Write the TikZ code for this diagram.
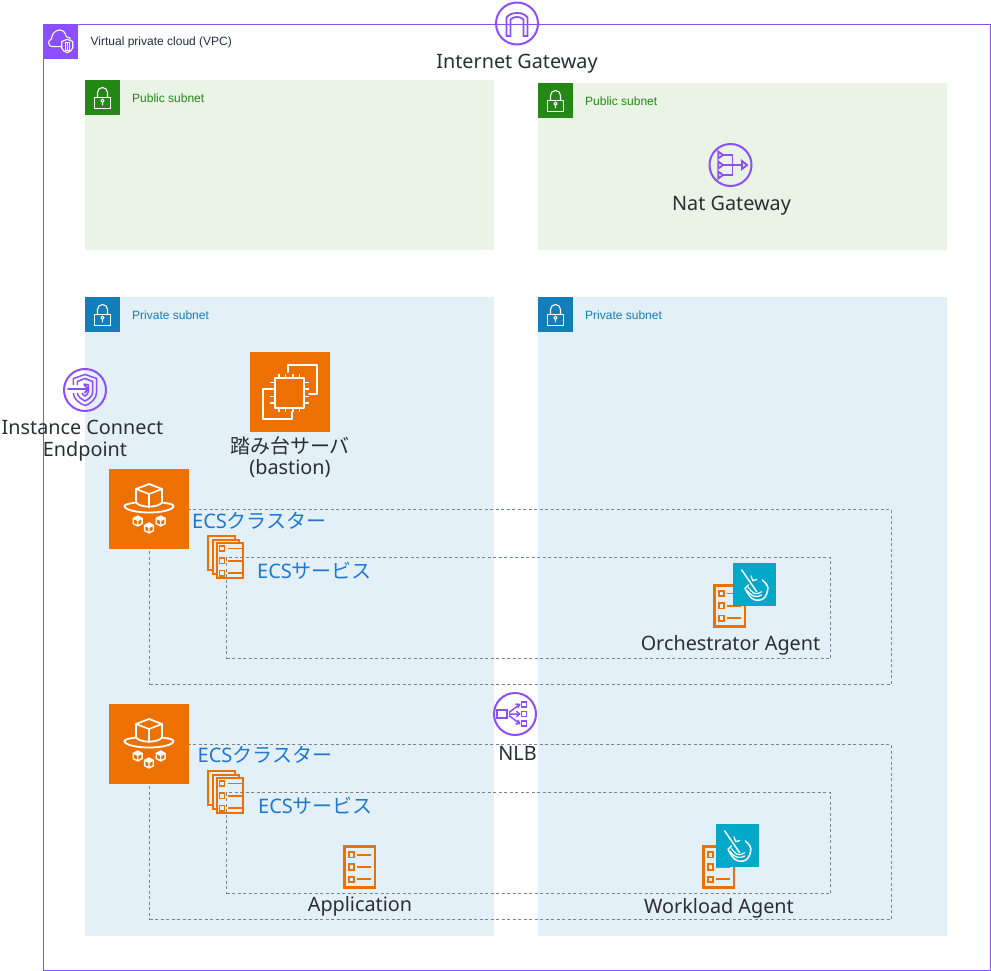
\documentclass[tikz,border=0pt]{standalone}
\usepackage{fontspec}
\setmainfont{Noto Sans}
\newfontfamily\cjk{Noto Sans CJK JP}
\newfontfamily\lib{Liberation Sans}
\definecolor{vpcp}{HTML}{8C4FFF}
\definecolor{pubg}{HTML}{248814}
\definecolor{pubf}{HTML}{E9F3E6}
\definecolor{privb}{HTML}{147EBA}
\definecolor{privf}{HTML}{E3F0F8}
\definecolor{awso}{HTML}{ED7100}
\definecolor{cyanb}{HTML}{01A8C8}
\definecolor{dashg}{HTML}{7A8490}
\definecolor{txt}{HTML}{232F3E}
\definecolor{darkt}{HTML}{2B2F33}
\definecolor{bluet}{HTML}{1E78D2}
\tikzset{
  x=1pt,y=-1pt,
  region/.style={anchor=north west,inner sep=0pt,outer sep=0pt,draw=none,minimum width=#1},
  lbl/.style={inner sep=0pt,anchor=base,text=darkt,font=\fontsize{19.8}{24}\selectfont},
  bluelbl/.style={inner sep=0pt,anchor=base west,text=bluet,font=\fontsize{20}{24}\selectfont},
  smalllbl/.style={inner sep=0pt,anchor=west,font=\lib\fontsize{12}{14}\selectfont},
  dashbox/.style={draw=dashg,line width=0.9pt,dash pattern=on 3pt off 2.5pt},
  ring/.style={draw=vpcp,line width=2pt,line join=round},
  ringline/.style={draw=vpcp,line width=1.8pt,line join=miter},
  whiteline/.style={draw=white,line width=2pt,line join=round,line cap=round},
  thinw/.style={draw=white,line width=1.1pt,line join=round,line cap=round},
  orline/.style={draw=awso,line width=2pt,line join=miter},
  lock/.pic={
    \draw[thinw] (-8,0) rectangle (8,11);
    \draw[thinw] (-5,0) -- (-5,-5) arc[start angle=180,end angle=360,x radius=5,y radius=5] -- (5,0);
    \draw[thinw] (0,3.2) circle[radius=1.6] (0,4.8) -- (0,7.4);
  },
  ecsicon/.pic={
    \draw[thinw,line width=1.8pt] (-13,-6.5) .. controls (-19,-5.5) and (-24.5,-5) .. (-24.5,-3) .. controls (-24.5,1) and (-12,3.5) .. (0,3.5) .. controls (12,3.5) and (24.5,1) .. (24.5,-3) .. controls (24.5,-5) and (19,-5.5) .. (13,-6.5);
    \draw[thinw,line width=1.8pt] (0,-25) -- (13,-20) -- (13,-6.5) .. controls (9,-1) and (-9,-1) .. (-13,-6.5) -- (-13,-20) -- cycle;
    \draw[thinw,line width=1.6pt] (-13,-20) -- (0,-15) -- (13,-20) (0,-15) -- (0,-1.5);
    \foreach \cx/\cy in {-11.3/12,0/19,11.7/12}{
      \fill[white] (\cx,\cy-5.7) -- (\cx+5.2,\cy-3) -- (\cx+5.2,\cy+3) -- (\cx,\cy+5.7) -- (\cx-5.2,\cy+3) -- (\cx-5.2,\cy-3) -- cycle;
      \fill[awso] (\cx-3.7,\cy-1.5) -- (\cx-0.6,\cy) -- (\cx-0.6,\cy+3.6) -- (\cx-3.7,\cy+2.2) -- cycle;
      \fill[awso] (\cx+3.7,\cy-1.5) -- (\cx+0.6,\cy) -- (\cx+0.6,\cy+3.6) -- (\cx+3.7,\cy+2.2) -- cycle;
    }
  },
  docinner/.pic={
    \foreach \yy in {-12.3,0,12.3}{
      \draw[draw=awso,line width=1.8pt] (-10.5,\yy-2.7) rectangle (-5.5,\yy+2.7);
      \draw[draw=awso,line width=1.8pt] (-2.5,\yy) -- (11.5,\yy);
    }
  },
  docicon/.pic={
    \draw[orline,line width=2.4pt] (-15.3,-20.5) rectangle (15.3,20.5);
    \pic at (0,0) {docinner};
  },
  stackicon/.pic={
    \draw[orline] (13.5,-17.5) -- (13.5,-21.3) -- (-13.2,-21.3) -- (-13.2,13) -- (-9,13);
    \draw[orline] (17.7,-13.7) -- (17.7,-17.5) -- (-9,-17.5) -- (-9,17) -- (-4.8,17);
    \draw[orline] (-4.8,-13.7) rectangle (21.8,21.3);
    \begin{scope}[shift={(8.5,3.8)},scale=0.85]\pic at (0,0) {docinner};\end{scope}
  },
  shovel/.pic={
    \draw[thinw,line width=1.5pt] (-12.8,-14.5) -- (2.2,7.2);
    \draw[thinw,line width=1.3pt] (-3.5,-8.5) -- (-1.8,-3.8) -- (2.2,-5);
    \draw[thinw,line width=1.5pt] (7.8,-4.5) .. controls (12,-1) and (14,2) .. (13.2,5.5) .. controls (12.5,11) and (9,15.5) .. (5.5,15.5) .. controls (2,16) and (-1,15.5) .. (-2.8,13.8) .. controls (-6,10.5) and (-8,7) .. (-9.5,3.8) -- (-6.2,0.5);
    \draw[thinw,line width=1.2pt] (-7.8,5.5) .. controls (-5.5,8.5) and (-3.5,10.5) .. (-1.2,11.5) .. controls (1.5,12.5) and (5,12) .. (7.2,10.5);
    \draw[thinw,line width=1.2pt] (-6.2,2.8) .. controls (-4.5,5.5) and (-2.5,7.5) .. (-0.5,8.8) .. controls (2,9.8) and (5,9) .. (7.2,7.2);
  },
}
\begin{document}
\begin{tikzpicture}
\useasboundingbox (0,0) rectangle (991,971);
% VPC
\node[region=946.5pt,minimum height=945.5pt,draw=vpcp,line width=1pt,fill=white] (vpc) at (43.5,24.5) {};
\node[region=35pt,minimum height=35pt,fill=vpcp] (vpchead) at (43,24.5) {};
\begin{scope}[shift={(60.5,42)}]
  \draw[thinw] (1,4.7) -- (-8,4.7) .. controls (-12.8,4.7) and (-13,-2) .. (-9,-3) .. controls (-9,-8) and (-5,-12) .. (-1,-12) .. controls (3,-12) and (5,-9) .. (6,-5) .. controls (8,-5) and (9.5,-4.5) .. (10,-3);
  \draw[thinw] (6.7,-2.7) -- (12.2,-0.5) -- (12.2,6) .. controls (11.5,8.5) and (9,10) .. (6.7,10.7) .. controls (4.4,10) and (1.9,8.5) .. (1.2,6) -- (1.2,-0.5) -- cycle;
  \draw[thinw,line width=.9pt] (4.5,0.8) rectangle (9,8);
  \draw[thinw,line width=.7pt] (6.7,0.8) -- (6.7,8);
\end{scope}
\node[smalllbl,text=txt] (vpclabel) at (90.5,42) {Virtual private cloud (VPC)};
% subnets
\node[region=409pt,minimum height=170pt,fill=pubf] (pub1) at (85,80) {};
\node[region=409pt,minimum height=167pt,fill=pubf] (pub2) at (538,83) {};
\node[region=409pt,minimum height=639pt,fill=privf] (priv1) at (85,297) {};
\node[region=409pt,minimum height=639pt,fill=privf] (priv2) at (538,297) {};
\foreach \nm/\hx/\hy/\hc in {h1/85/80/pubg,h2/538/83/pubg,h3/85/297/privb,h4/538/297/privb}{
  \node[region=35pt,minimum height=35pt,fill=\hc] (\nm) at (\hx,\hy) {};
  \pic at (\hx+17.5,\hy+17.5) {lock};
}
\node[smalllbl,text=pubg] (publbl1) at (132,98) {Public subnet};
\node[smalllbl,text=pubg] (publbl2) at (585,101) {Public subnet};
\node[smalllbl,text=privb] (privlbl1) at (132,315) {Private subnet};
\node[smalllbl,text=privb] (privlbl2) at (585,315) {Private subnet};
% dashed groups
\node[region=741.5pt,minimum height=175pt,dashbox] (cluster1) at (149.5,509.5) {};
\node[region=604pt,minimum height=101pt,dashbox] (service1) at (226.5,557.5) {};
\node[region=741.5pt,minimum height=175pt,dashbox] (cluster2) at (149.5,744.5) {};
\node[region=604pt,minimum height=101pt,dashbox] (service2) at (226.5,792.5) {};
% Internet gateway
\node[circle,minimum size=42pt,inner sep=0pt,ring] (igw) at (517,23.5) {};
\draw[ringline] (506.5,36) -- (506.5,17.5) .. controls (509,14.5) and (512,13) .. (517,13) .. controls (522,13) and (525,14.5) .. (527.5,17.5) -- (527.5,36) -- (523.5,36) -- (523.5,19.5) .. controls (521.5,17.5) and (519.5,17) .. (517,17) .. controls (514.5,17) and (512.5,17.5) .. (510.5,19.5) -- (510.5,36) -- cycle;
\node[lbl] (igwlabel) at (517,68.5) {Internet Gateway};
% NAT gateway
\node[circle,minimum size=42pt,inner sep=0pt,ring] (nat) at (730.5,165) {};
\begin{scope}[shift={(730.5,165)}]
  \foreach \yy in {-10,0,10}{\draw[ringline] (-12.3,\yy-3.5) -- (-7.5,\yy) -- (-12.3,\yy+3.5) -- cycle;}
  \draw[ringline] (-7.5,-10) -- (2,-10) -- (2,10) -- (-7.5,10) (-7.5,0) -- (11,0);
  \draw[ringline] (11.5,-4) -- (16.5,0) -- (11.5,4) -- cycle;
\end{scope}
\node[lbl] (natlabel) at (731.5,210) {Nat Gateway};
% Instance Connect Endpoint
\node[circle,minimum size=42pt,inner sep=0pt,ring] (ice) at (85,390) {};
\begin{scope}[shift={(85,390)}]
  \draw[ringline,line width=1.5pt] (-11.7,-5) -- (-11.7,-11.5) -- (0,-15.5) -- (11.7,-11.5) -- (11.7,2) .. controls (11.7,9) and (5,14) .. (0,15.5) .. controls (-5,14) and (-11.7,9) .. (-11.7,3);
  \draw[ringline,line width=1.5pt] (-7.7,-5) -- (-7.7,-8.5) -- (0,-11.5) -- (7.7,-8.5) -- (7.7,2) .. controls (7.7,6.5) and (3,9.5) .. (0,11) .. controls (-3,9.5) and (-7.7,6.5) .. (-7.7,3);
  \draw[ringline,line width=1.5pt] (-1.5,-6) -- (3.3,-5) -- (3.3,1.5) .. controls (3.3,3.5) and (1.5,5) .. (0,6) .. controls (-1.5,5) and (-3,4.5) .. (-3,3);
  \draw[ringline] (-17.7,-1) -- (3.3,-1) (-0.7,-5) -- (3.3,-1) -- (-0.7,3);
\end{scope}
\node[lbl] (icelabel1) at (82.5,434) {Instance Connect};
\node[lbl] (icelabel2) at (85,456.5) {Endpoint};
% EC2
\node[region=80pt,minimum height=80pt,fill=awso] (ec2) at (250,352) {};
\draw[whiteline] (287.7,372) -- (287.7,365) -- (316.7,365) -- (316.7,394) -- (309,394);
\draw[whiteline] (272,389.3) -- (263.3,389.3) -- (263.3,419) -- (292.3,419) -- (292.3,412);
\draw[whiteline] (274.5,378) rectangle (304,407.5);
\foreach \pp in {279,285.5,293,299.5}{
  \draw[thinw,line width=1.6pt,line cap=butt] (\pp,378) -- (\pp,373.5) (\pp,407.5) -- (\pp,412);
}
\foreach \pp in {382.5,389,396.5,403}{
  \draw[thinw,line width=1.6pt,line cap=butt] (274.5,\pp) -- (270,\pp) (304,\pp) -- (308.5,\pp);
}
\node[lbl] (ec2label1) at (290,453) {\fontsize{20}{24}\selectfont\cjk 踏み台サーバ};
\node[lbl] (ec2label2) at (290,474) {(bastion)};
% ECS 1
\node[region=80pt,minimum height=80pt,fill=awso] (ecs1) at (109,469) {};
\pic at (149,509) {ecsicon};
\node[bluelbl] (cl1label) at (192,528) {ECS\cjk クラスター};
\pic at (221.5,557) {stackicon};
\node[bluelbl] (sv1label) at (257,578) {ECS\cjk サービス};
% Orchestrator
\pic at (729.6,605.8) {docicon};
\node[region=43pt,minimum height=43pt,fill=cyanb] (orchq) at (733,563) {};
\pic at (754.5,584.5) {shovel};
\node[lbl] (orchlabel) at (730.5,650) {Orchestrator Agent};
% NLB
\node[circle,minimum size=42pt,inner sep=0pt,ring] (nlb) at (515,714) {};
\begin{scope}[shift={(515,714)}]
  \draw[ringline] (-17.7,-4) rectangle (-7.7,4);
  \foreach \yy in {-9.5,0,9.5}{\draw[ringline,line width=1.5pt] (6.7,\yy-2.6) rectangle (11.7,\yy+2.6);}
  \draw[ringline,line width=1.5pt] (-6,-1.5) -- (4.5,-9.5) (-6,0) -- (4.5,0) (-6,1.5) -- (4.5,9.5);
  \draw[ringline,line width=1.5pt] (0.5,-10) -- (4.5,-9.5) -- (3,-6) (1.5,-2.8) -- (4.5,0) -- (1.5,2.8) (3,6) -- (4.5,9.5) -- (0.5,10);
\end{scope}
\node[lbl] (nlblabel) at (517.5,760) {NLB};
% ECS 2
\node[region=80pt,minimum height=80pt,fill=awso] (ecs2) at (109,704) {};
\pic at (149,744) {ecsicon};
\node[bluelbl] (cl2label) at (197.5,762.3) {ECS\cjk クラスター};
\pic at (221.5,792) {stackicon};
\node[bluelbl] (sv2label) at (258,813) {ECS\cjk サービス};
% Application
\pic at (359.6,867) {docicon};
\node[lbl] (applabel) at (360,911.5) {Application};
% Workload
\pic at (718.6,867) {docicon};
\node[region=43pt,minimum height=43pt,fill=cyanb] (workq) at (716,824) {};
\pic at (737.5,845.5) {shovel};
\node[lbl] (worklabel) at (719,913.5) {Workload Agent};
\end{tikzpicture}
\end{document}
